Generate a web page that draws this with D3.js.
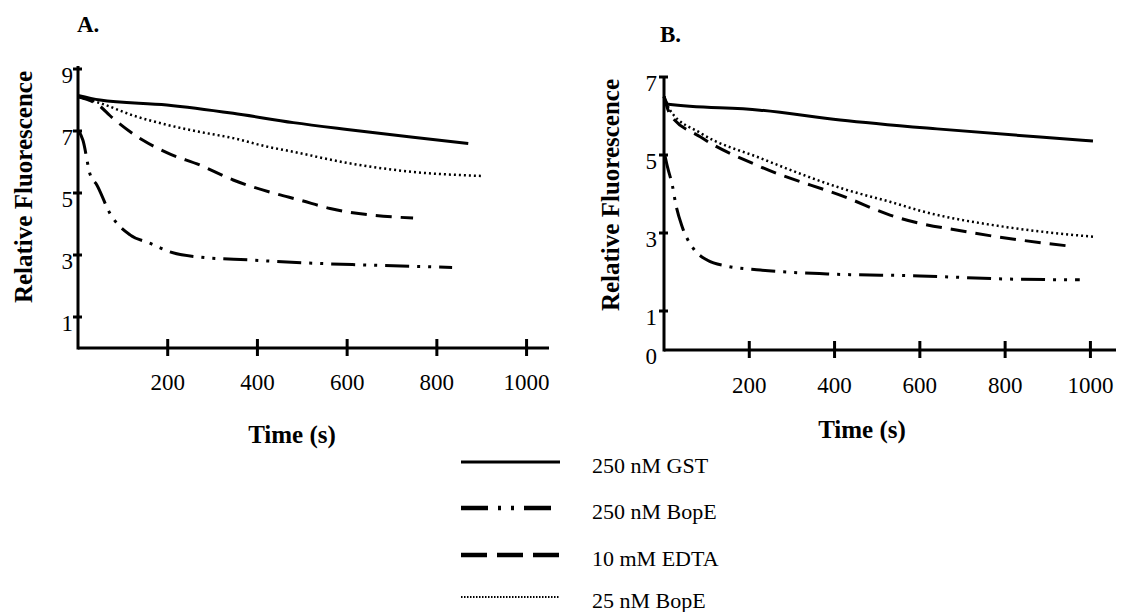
<!DOCTYPE HTML>
<html>
<head>
	<meta charset="UTF-8">
	<script src="https://d3js.org/d3.v7.min.js"></script>
	<style type="text/css">
	body { margin: 0; background-color: #ffffff; }
	svg { display: block; font-family: "Liberation Serif", "Times New Roman", serif; }
	.trace { fill: none; stroke: #000; stroke-linejoin: round; }
	.ax { stroke: #000; stroke-width: 3; fill: none; }
	.tick-label { font-size: 23px; fill: #000; }
	.axis-title { font-size: 25px; font-weight: bold; fill: #000; }
	.panel-title { font-size: 23px; font-weight: bold; fill: #000; }
	.legend-label { font-size: 22px; fill: #000; }
	</style>
	<title>Relative Fluorescence</title>
</head>
<body>
	<div id="chart"></div>
<script>
// series names, in legend order
var seriesNames = ["250 nM GST", "250 nM BopE", "10 mM EDTA", "25 nM BopE"];

// panel A (time in s, relative fluorescence)
var aGstT = [0, 49, 198, 346, 480, 600, 747, 870];
var aGstV = [8.15, 8.0, 7.84, 7.57, 7.27, 7.05, 6.8, 6.6];
var aBope250T = [2, 11, 27, 42, 71, 116, 160, 205, 272, 383, 500, 635, 834];
var aBope250V = [7.0, 6.7, 5.6, 5.26, 4.35, 3.65, 3.38, 3.1, 2.93, 2.84, 2.75, 2.68, 2.6];
var aEdtaT = [0, 49, 71, 145, 198, 272, 346, 435, 495, 562, 747];
var aEdtaV = [8.1, 7.8, 7.5, 6.7, 6.3, 5.9, 5.42, 5.0, 4.77, 4.5, 4.19];
var aBope25T = [0, 49, 123, 198, 272, 346, 420, 480, 600, 747, 900];
var aBope25V = [8.1, 7.9, 7.5, 7.2, 6.97, 6.77, 6.5, 6.33, 5.97, 5.68, 5.55];

// panel B
var bGstT = [0, 10, 225, 413, 640, 882, 1006];
var bGstV = [6.5, 6.3, 6.15, 5.9, 5.67, 5.46, 5.36];
var bBope250T = [2, 8, 20, 27, 43, 69, 102, 148, 226, 383, 600, 804, 975];
var bBope250V = [5.0, 4.7, 4.2, 3.77, 3.15, 2.6, 2.3, 2.15, 2.05, 1.95, 1.9, 1.82, 1.8];
var bEdtaT = [0, 14, 86, 226, 430, 530, 553, 710, 962];
var bEdtaV = [6.5, 6.05, 5.46, 4.7, 3.9, 3.46, 3.38, 3.03, 2.65];
var bBope25T = [0, 14, 86, 226, 430, 530, 608, 804, 1010];
var bBope25V = [6.5, 6.15, 5.56, 4.92, 4.1, 3.8, 3.55, 3.15, 2.9];

// tick labels
var xTicks = [200, 400, 600, 800, 1000];
var aYTicks = [1, 3, 5, 7, 9];
var bYTicks = [0, 1, 3, 5, 7];

// line styles per series (plot, legend)
var plotDash = [null, "24,8,3,8,3,8", "16,9", "2,3"];
var plotWidth = [3, 3, 3, 2.5];
var legDash = [null, "27,10,3,10,3,10", "26,10", "1.5,1.5"];
var legWidth = [3, 4.5, 4.5, 2];

var W = 1121, H = 612;
var svg = d3.select("#chart").append("svg")
    .attr("width", W)
    .attr("height", H);

function zip(t, v) {
    return t.map(function(d, i) { return {t: d, v: v[i]}; });
}

function drawPanel(p) {
    var x = d3.scaleLinear().domain([0, p.xMax]).range([p.left, p.right]);
    var y = d3.scaleLinear().domain([0, p.yMax]).range([p.bottom, p.yTop]);
    var g = svg.append("g");

    var line = d3.line()
        .x(function(d) { return x(d.t); })
        .y(function(d) { return y(d.v); })
        .curve(d3.curveMonotoneX);

    p.series.forEach(function(s, i) {
        g.append("path")
            .attr("class", "trace")
            .attr("d", line(s))
            .attr("stroke-width", plotWidth[i])
            .attr("stroke-dasharray", plotDash[i]);
    });

    // axes
    var x0 = x(0);
    g.append("line").attr("class", "ax")
        .attr("x1", x0).attr("x2", x0)
        .attr("y1", p.bottom + 1.5).attr("y2", p.axisTop);
    g.append("line").attr("class", "ax")
        .attr("x1", x0).attr("x2", p.right)
        .attr("y1", p.bottom).attr("y2", p.bottom);

    xTicks.forEach(function(t) {
        g.append("line").attr("class", "ax")
            .attr("x1", x(t)).attr("x2", x(t))
            .attr("y1", p.bottom - 9).attr("y2", p.bottom + 8)
            .attr("stroke-width", 2.5);
        g.append("text").attr("class", "tick-label")
            .attr("x", x(t)).attr("y", p.bottom + p.xLabelDy)
            .attr("text-anchor", "middle")
            .text(t);
    });

    p.yTicks.forEach(function(v) {
        if (v > 0) {
            g.append("line").attr("class", "ax")
                .attr("x1", x0 - 5).attr("x2", x0 + 4)
                .attr("y1", y(v)).attr("y2", y(v))
                .attr("stroke-width", 2.5);
        }
        g.append("text").attr("class", "tick-label")
            .attr("x", x0 - p.yLabelGap).attr("y", y(v) + 14)
            .attr("text-anchor", "end")
            .text(v);
    });

    g.append("text").attr("class", "axis-title")
        .attr("transform", "translate(" + p.yTitleX + "," + p.yTitleY + ") rotate(-90)")
        .attr("text-anchor", "middle")
        .text("Relative Fluorescence");

    g.append("text").attr("class", "axis-title")
        .attr("x", p.xTitleX).attr("y", p.xTitleY)
        .attr("text-anchor", "middle")
        .text("Time (s)");

    g.append("text").attr("class", "panel-title")
        .attr("x", p.titleX).attr("y", p.titleY)
        .text(p.title);
}

drawPanel({
    title: "A.", titleX: 77, titleY: 32,
    left: 78, right: 549, xMax: 1050,
    bottom: 348, yTop: 69, yMax: 9, axisTop: 66,
    yTicks: aYTicks, yLabelGap: 5, xLabelDy: 42,
    yTitleX: 32, yTitleY: 187,
    xTitleX: 292, xTitleY: 443,
    series: [zip(aGstT, aGstV), zip(aBope250T, aBope250V), zip(aEdtaT, aEdtaV), zip(aBope25T, aBope25V)]
});

drawPanel({
    title: "B.", titleX: 660, titleY: 42,
    left: 664, right: 1116, xMax: 1060,
    bottom: 350, yTop: 77, yMax: 7, axisTop: 76,
    yTicks: bYTicks, yLabelGap: 7, xLabelDy: 43,
    yTitleX: 619, yTitleY: 195,
    xTitleX: 862, xTitleY: 438,
    series: [zip(bGstT, bGstV), zip(bBope250T, bBope250V), zip(bEdtaT, bEdtaV), zip(bBope25T, bBope25V)]
});

// legend
var legY = [462, 508, 555, 597];
var leg = svg.append("g");
seriesNames.forEach(function(name, i) {
    leg.append("line")
        .attr("x1", 461).attr("x2", 560)
        .attr("y1", legY[i]).attr("y2", legY[i])
        .attr("stroke", "#000")
        .attr("stroke-width", legWidth[i])
        .attr("stroke-dasharray", legDash[i]);
    leg.append("text").attr("class", "legend-label")
        .attr("x", 592).attr("y", legY[i] + 11)
        .text(name);
});
</script>
</body>
</html>
